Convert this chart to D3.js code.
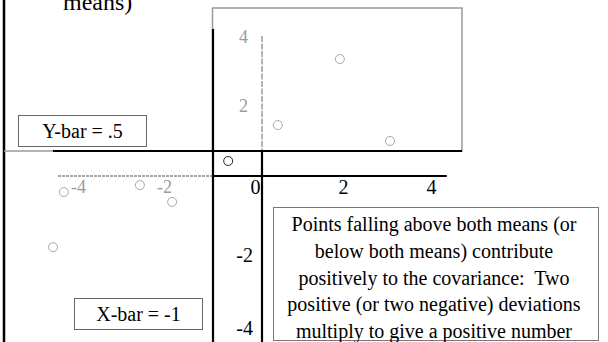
<!DOCTYPE html>
<html>
<head>
<meta charset="utf-8">
<script src="https://cdn.jsdelivr.net/npm/d3@7"></script>
<style>
  html, body { margin: 0; padding: 0; background: #fff; }
  svg { display: block; }
  svg text { font-family: "Liberation Serif", "Times New Roman", serif; }
</style>
</head>
<body>
<svg id="chart" width="608" height="342"></svg>
<script>
// Paired observations (x, y)
const pointX = [1.77, 0.36, 2.91, -0.69, -4.47, -2.70, -1.95, -4.72];
const pointY = [3.16, 1.25, 0.79, 0.30, -0.44, -0.25, -0.71, -1.95];

// Means of the two variables
const xBar = -1;
const yBar = 0.5;

// Tick labels
const xTicksLeft = [-4, -2];
const xTicksRight = [0, 2, 4];
const yTicksUpper = [4, 2];
const yTicksLower = [-2, -4];

// Annotation texts
const titleTail = "means)";
const yBarLabel = "Y-bar = .5";
const xBarLabel = "X-bar = -1";
const noteLines = [
  "Points falling above both means (or",
  "below both means) contribute",
  "positively to the covariance:  Two",
  "positive (or two negative) deviations",
  "multiply to give a positive number"
];

const svg = d3.select("#chart");
const W = 608, H = 342;
const GRAY = "#9a9a9a";
const SERIF = "'Liberation Serif', 'Times New Roman', serif";

// Scales pass through both means so the mean lines sit on the quadrant split
const x = d3.scaleLinear().domain([-4, xBar, 0, 4]).range([84, 213, 262, 438]);
const y = d3.scaleLinear().domain([-4, 0, yBar, 4]).range([322, 176, 151, 30]);

// Title fragment at top
svg.append("text")
  .attr("x", 63).attr("y", 10)
  .style("font-family", SERIF).style("font-size", "24px").attr("fill", "#000")
  .text(titleTail);

// Left page rule
svg.append("line")
  .attr("x1", 4).attr("x2", 4).attr("y1", 0).attr("y2", H)
  .attr("stroke", "#000").attr("stroke-width", 2.5);

// Plot frame
svg.append("rect")
  .attr("x", x(xBar) - 0.5).attr("y", 8)
  .attr("width", 462 - x(xBar) + 0.5).attr("height", y(yBar) - 8)
  .attr("fill", "none").attr("stroke", GRAY).attr("stroke-width", 1.5);

// Dashed axes of the scatter
svg.append("line")
  .attr("x1", 58).attr("x2", x(xBar))
  .attr("y1", y(0)).attr("y2", y(0))
  .attr("stroke", "#8a8a8a").attr("stroke-width", 1.5)
  .attr("stroke-dasharray", "3,1");
svg.append("line")
  .attr("x1", x(0)).attr("x2", x(0))
  .attr("y1", 36).attr("y2", y(yBar))
  .attr("stroke", GRAY).attr("stroke-width", 1.5)
  .attr("stroke-dasharray", "6,1.5");

// Mean lines and quadrant axes
const blk = svg.append("g").attr("stroke", "#000").attr("stroke-width", 2.2);
blk.append("line") // Y-bar
  .attr("x1", 53).attr("x2", 462).attr("y1", y(yBar)).attr("y2", y(yBar));
svg.append("line")
  .attr("x1", 4).attr("x2", 53).attr("y1", y(yBar)).attr("y2", y(yBar))
  .attr("stroke", GRAY).attr("stroke-width", 1.5);
blk.append("line") // X-bar
  .attr("x1", x(xBar)).attr("x2", x(xBar)).attr("y1", 29).attr("y2", H);
blk.append("line") // x axis (right part)
  .attr("x1", x(xBar)).attr("x2", x(4.2)).attr("y1", y(0)).attr("y2", y(0));
blk.append("line") // y axis (lower part)
  .attr("x1", x(0)).attr("x2", x(0)).attr("y1", y(yBar)).attr("y2", H);

// Tick labels via d3 axes (plain hyphen for negatives)
const fmt = d => String(d);
function styleAxis(g, color, size) {
  g.attr("font-family", null).attr("font-size", null);
  g.select(".domain").remove();
  g.selectAll("text").attr("fill", color)
    .style("font-family", SERIF).style("font-size", size + "px");
}
svg.append("g").attr("transform", `translate(0,${y(0)})`)
  .call(d3.axisBottom(x).tickValues(xTicksRight).tickFormat(fmt).tickSize(0).tickPadding(4))
  .call(g => styleAxis(g, "#000", 20))
  .call(g => g.selectAll("text").attr("x", -7));
svg.append("g").attr("transform", `translate(0,${y(0)})`)
  .call(d3.axisBottom(x).tickValues(xTicksLeft).tickFormat(fmt).tickSize(0).tickPadding(4))
  .call(g => styleAxis(g, GRAY, 18))
  .call(g => g.selectAll("text").attr("x", -6));
svg.append("g").attr("transform", `translate(${x(0)},0)`)
  .call(d3.axisLeft(y).tickValues(yTicksUpper).tickFormat(fmt).tickSize(0).tickPadding(14))
  .call(g => styleAxis(g, GRAY, 18))
  .call(g => g.selectAll("text").attr("y", 7));
svg.append("g").attr("transform", `translate(${x(0)},0)`)
  .call(d3.axisLeft(y).tickValues(yTicksLower).tickFormat(fmt).tickSize(0).tickPadding(9))
  .call(g => styleAxis(g, "#000", 20))
  .call(g => g.selectAll("text").attr("y", 6));

// Points: the one inside the band between the means and the axes is drawn dark
const pts = pointX.map((v, i) => ({ x: v, y: pointY[i] }));
svg.append("g").selectAll("circle").data(pts).join("circle")
  .attr("cx", d => x(d.x)).attr("cy", d => y(d.y)).attr("r", 4.5)
  .attr("fill", "#fff")
  .attr("stroke", d => (d.x > xBar && d.x < 0 && d.y > 0 && d.y < yBar) ? "#222" : "#a8a8a8")
  .attr("stroke-width", 1);

// Labelled boxes
function labelBox(bx, by, bw, bh, txt) {
  svg.append("rect").attr("x", bx).attr("y", by).attr("width", bw).attr("height", bh)
    .attr("fill", "#fff").attr("stroke", "#666").attr("stroke-width", 1);
  svg.append("text").attr("x", bx + bw / 2).attr("y", by + bh / 2 + 7)
    .attr("text-anchor", "middle").style("font-family", SERIF).style("font-size", "20px")
    .attr("fill", "#000")
    .text(txt);
}
labelBox(18.5, 115.5, 128, 31, yBarLabel);
labelBox(74.5, 298.5, 128, 31, xBarLabel);

// Explanation box
svg.append("rect").attr("x", 273.5).attr("y", 207.5).attr("width", 325).attr("height", 133)
  .attr("fill", "#fff").attr("stroke", "#777").attr("stroke-width", 1);
svg.append("text")
  .style("font-family", SERIF).style("font-size", "20px")
  .attr("fill", "#000").attr("text-anchor", "middle")
  .style("white-space", "pre")
  .selectAll("tspan").data(noteLines).join("tspan")
  .attr("x", 434).attr("y", (d, i) => 231 + i * 26.75)
  .text(d => d);
</script>
</body>
</html>
